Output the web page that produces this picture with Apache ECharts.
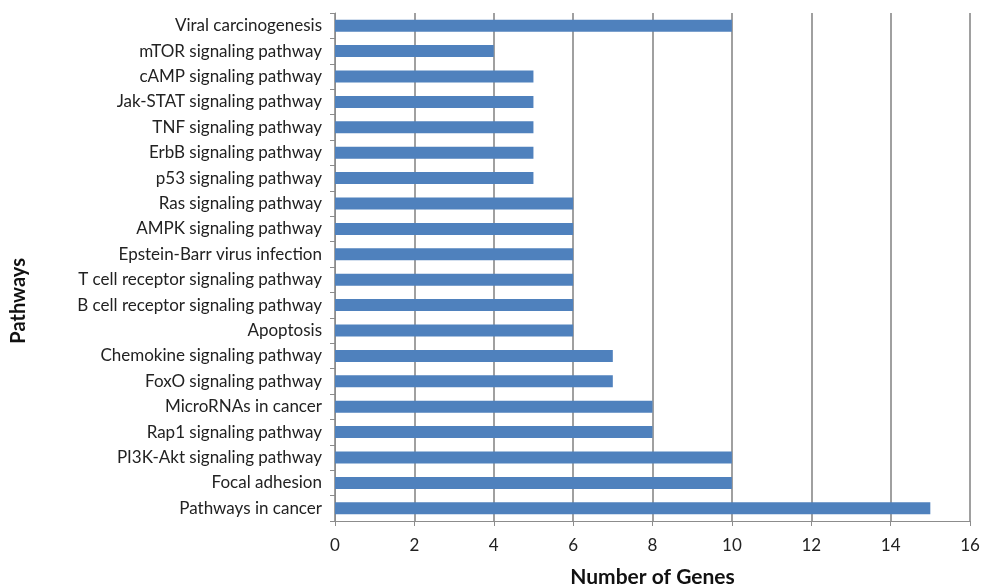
<!DOCTYPE html>
<html>
<head>
<meta charset="utf-8">
<script src="https://cdn.jsdelivr.net/npm/echarts@6/dist/echarts.min.js"></script>
<style>
  html, body { margin: 0; padding: 0; background: #fff; }
  #chart { width: 982px; height: 588px; }
</style>
</head>
<body>
<div id="chart"></div>
<script>
// Pathway names, listed from the bottom of the chart to the top
const pathways = [
  'Pathways in cancer',
  'Focal adhesion',
  'PI3K-Akt signaling pathway',
  'Rap1 signaling pathway',
  'MicroRNAs in cancer',
  'FoxO signaling pathway',
  'Chemokine signaling pathway',
  'Apoptosis',
  'B cell receptor signaling pathway',
  'T cell receptor signaling pathway',
  'Epstein-Barr virus infection',
  'AMPK signaling pathway',
  'Ras signaling pathway',
  'p53 signaling pathway',
  'ErbB signaling pathway',
  'TNF signaling pathway',
  'Jak-STAT signaling pathway',
  'cAMP signaling pathway',
  'mTOR signaling pathway',
  'Viral carcinogenesis'
];

// Gene counts per pathway, same order as above
const geneCounts = [15, 10, 10, 8, 8, 7, 7, 6, 6, 6, 6, 6, 6, 5, 5, 5, 5, 5, 4, 10];

const xTitle = 'Number of Genes';
const yTitle = 'Pathways';

const FONT = 'Lato, "Open Sans", sans-serif';

const chart = echarts.init(document.getElementById('chart'), null, { renderer: 'canvas' });

chart.setOption({
  animation: false,
  backgroundColor: '#ffffff',
  grid: {
    left: 335, right: 12, top: 13, bottom: 67,
    containLabel: false,
    outerBoundsMode: 'none'
  },
  xAxis: {
    type: 'value',
    min: 0,
    max: 16,
    interval: 2,
    name: xTitle,
    nameLocation: 'middle',
    nameGap: 46,
    nameTextStyle: { fontFamily: FONT, fontSize: 21, fontWeight: 'bold', color: '#111' },
    axisLine: { show: true, lineStyle: { color: '#8c8c8c', width: 1 } },
    axisTick: { show: true, length: 5, lineStyle: { color: '#8c8c8c' } },
    axisLabel: { fontFamily: FONT, fontSize: 17, color: '#222', margin: 16 },
    splitLine: { show: true, lineStyle: { color: '#a0a0a0', width: 2 } }
  },
  yAxis: {
    type: 'category',
    data: pathways,
    axisLine: { show: true, lineStyle: { color: '#8c8c8c', width: 1 } },
    axisTick: { show: true, length: 5, alignWithLabel: false, lineStyle: { color: '#8c8c8c' } },
    axisLabel: { fontFamily: FONT, fontSize: 17, color: '#222', margin: 13 },
    splitLine: { show: false }
  },
  graphic: [{
    type: 'text',
    left: 9,
    top: 258,
    rotation: Math.PI / 2,
    style: {
      text: yTitle,
      fontFamily: FONT,
      fontSize: 20,
      fontWeight: 'bold',
      fill: '#111'
    }
  }],
  series: [{
    type: 'bar',
    data: geneCounts,
    barWidth: 12,
    itemStyle: { color: '#4f81bd' }
  }]
});
</script>
</body>
</html>
